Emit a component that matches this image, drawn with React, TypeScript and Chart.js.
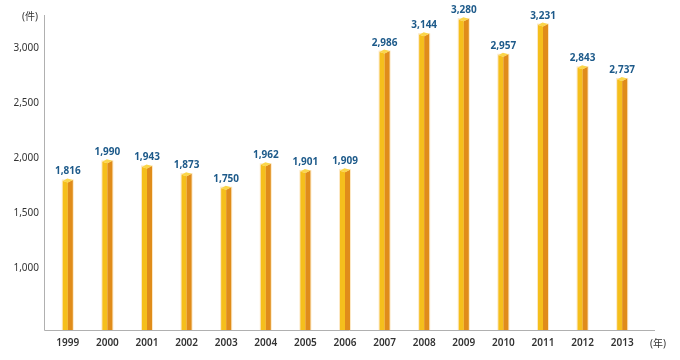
import React, { useEffect, useRef } from "react";
import { Chart, registerables } from "chart.js";

Chart.register(...registerables);

const years = ["1999", "2000", "2001", "2002", "2003", "2004", "2005", "2006", "2007", "2008", "2009", "2010", "2011", "2012", "2013"];
const counts = [1816, 1990, 1943, 1873, 1750, 1962, 1901, 1909, 2986, 3144, 3280, 2957, 3231, 2843, 2737];
const yTickValues = [1000, 1500, 2000, 2500, 3000];
const yUnitLabel = "(件)";
const xUnitLabel = "(年)";

const fmt = (v: number) => v.toLocaleString("en-US");
const FONT = "'Noto Sans', 'Noto Sans CJK JP', sans-serif";

const bars3d = {
  id: "bars3d",
  beforeDatasetsDraw(chart: any) {
    const ctx = chart.ctx;
    const area = chart.chartArea;
    ctx.save();
    ctx.strokeStyle = "#b0b0b0";
    ctx.lineWidth = 1;
    ctx.beginPath();
    ctx.moveTo(44.5, area.top);
    ctx.lineTo(44.5, area.bottom + 0.5);
    ctx.lineTo(655, area.bottom + 0.5);
    ctx.stroke();
    ctx.fillStyle = "#333";
    ctx.font = `10px ${FONT}`;
    ctx.textBaseline = "middle";
    ctx.textAlign = "right";
    ctx.fillText(yUnitLabel, 38, 17);
    ctx.textAlign = "center";
    ctx.fillText(xUnitLabel, 658, 344);
    ctx.restore();
  },
  afterDatasetsDraw(chart: any) {
    const ctx = chart.ctx;
    const area = chart.chartArea;
    const meta = chart.getDatasetMeta(0);
    ctx.save();
    meta.data.forEach((el: any, i: number) => {
      const props = el.getProps(["x", "y", "base", "width"], true);
      const { x, y, width } = props;
      const base = Math.min(props.base, area.bottom);
      const l = x - width / 2;
      const r = x + width / 2;
      const m = x;
      // faint halo
      ctx.fillStyle = "rgba(250,214,150,0.55)";
      ctx.fillRect(l - 1, y + 1, width + 2, base - y - 1);
      // left face
      ctx.fillStyle = "#f5bf1c";
      ctx.beginPath();
      ctx.moveTo(l, y + 2.5);
      ctx.lineTo(m, y + 4);
      ctx.lineTo(m, base);
      ctx.lineTo(l, base);
      ctx.closePath();
      ctx.fill();
      // right face
      ctx.fillStyle = "#e08c1a";
      ctx.beginPath();
      ctx.moveTo(m, y + 4);
      ctx.lineTo(r, y + 1.5);
      ctx.lineTo(r, base);
      ctx.lineTo(m, base);
      ctx.closePath();
      ctx.fill();
      // top cap
      ctx.fillStyle = "#fbd64a";
      ctx.beginPath();
      ctx.moveTo(l, y + 2.5);
      ctx.lineTo(l + width * 0.45, y);
      ctx.lineTo(r, y + 1.5);
      ctx.lineTo(m, y + 4);
      ctx.closePath();
      ctx.fill();
      // value label
      ctx.fillStyle = "#1d5a8a";
      ctx.font = `bold 10px ${FONT}`;
      ctx.textAlign = "center";
      ctx.textBaseline = "alphabetic";
      ctx.fillText(fmt(counts[i]), x, y - 4);
    });
    ctx.restore();
  },
};

export default function App() {
  const ref = useRef<HTMLCanvasElement | null>(null);
  useEffect(() => {
    document.body.style.margin = "0";
    const canvas = ref.current;
    if (!canvas) return;
    const chart = new Chart(canvas, {
      type: "bar",
      data: {
        labels: years,
        datasets: [
          {
            data: counts,
            backgroundColor: "rgba(0,0,0,0)",
            borderWidth: 0,
            barThickness: 10,
          },
        ],
      },
      options: {
        responsive: false,
        animation: false,
        layout: { padding: { top: 13, right: 38, bottom: 0, left: 0 } },
        plugins: {
          legend: { display: false },
          tooltip: { enabled: false },
          title: { display: false },
        },
        scales: {
          x: {
            offset: true,
            grid: { display: false, drawTicks: false },
            border: { display: false },
            ticks: {
              color: "#333",
              font: { family: FONT, size: 10, weight: "600" },
              padding: 7,
              maxRotation: 0,
              autoSkip: false,
            },
            afterFit(scale: any) {
              scale.height = 30;
            },
          },
          y: {
            min: 440,
            max: 3300,
            grid: { display: false, drawTicks: false },
            border: { display: false },
            afterBuildTicks(scale: any) {
              scale.ticks = yTickValues.map((v) => ({ value: v }));
            },
            ticks: {
              color: "#333",
              font: { family: FONT, size: 10 },
              padding: 9,
              callback: (v: any) => fmt(Number(v)),
            },
            afterFit(scale: any) {
              scale.width = 48;
            },
          },
        },
      },
      plugins: [bars3d],
    });
    return () => chart.destroy();
  }, []);
  return <canvas ref={ref} width={680} height={360} style={{ display: "block" }} />;
}
